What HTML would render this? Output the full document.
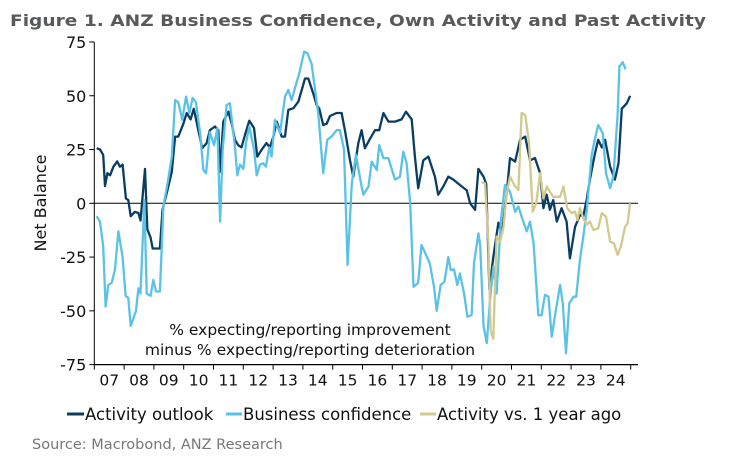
<!DOCTYPE html>
<html><head><meta charset="utf-8"><style>
body{margin:0;background:#fff;}
svg{display:block;}
text{font-family:"DejaVu Sans","Liberation Sans",sans-serif;}
</style></head><body>
<svg id="chart" width="743" height="458" viewBox="0 0 743 458">
<text x="10" y="26" font-size="16" font-weight="bold" fill="#58595b" textLength="696" lengthAdjust="spacingAndGlyphs">Figure 1.  ANZ Business Confidence, Own Activity and Past Activity</text>
<text transform="translate(46,203) rotate(-90)" text-anchor="middle" font-size="16" fill="#111">Net Balance</text>
<g id="yaxis"></g>
<g id="xaxis"></g>
<g id="series"></g>
<text x="310" y="335" text-anchor="middle" font-size="15.5" fill="#111">% expecting/reporting improvement</text>
<text x="310" y="355" text-anchor="middle" font-size="15.5" fill="#111">minus % expecting/reporting deterioration</text>
<g>
<g><line x1="67" y1="414" x2="84" y2="414" stroke="#0a3d62" stroke-width="3"/><text x="85" y="420" font-size="16.5" fill="#111" font-family="Liberation Sans, sans-serif">Activity outlook</text></g>
<g><line x1="226" y1="414" x2="242" y2="414" stroke="#5bc2e7" stroke-width="3"/><text x="243" y="420" font-size="16.5" fill="#111" font-family="Liberation Sans, sans-serif">Business confidence</text></g>
<g><line x1="420" y1="414" x2="436" y2="414" stroke="#d2c98f" stroke-width="3"/><text x="437" y="420" font-size="16.5" fill="#111" font-family="Liberation Sans, sans-serif">Activity vs. 1 year ago</text></g>
</g>
<text x="32" y="449" font-size="14.5" fill="#777" font-family="Liberation Sans, sans-serif">Source: Macrobond, ANZ Research</text>
</svg>
<script>
const yTicks=[75,50,25,0,-25,-50,-75];
const yearLabels=["07","08","09","10","11","12","13","14","15","16","17","18","19","20","21","22","23","24"];
const outlookT=[2007.08,2007.19,2007.30,2007.36,2007.44,2007.53,2007.64,2007.77,2007.86,2007.95,2008.06,2008.14,2008.22,2008.36,2008.48,2008.55,2008.70,2008.78,2008.89,2008.96,2009.09,2009.20,2009.29,2009.43,2009.60,2009.71,2009.82,2009.99,2010.10,2010.23,2010.34,2010.49,2010.62,2010.77,2010.88,2011.05,2011.16,2011.22,2011.33,2011.50,2011.61,2011.72,2011.83,2011.94,2012.06,2012.20,2012.36,2012.47,2012.62,2012.78,2012.89,2013.01,2013.12,2013.29,2013.40,2013.51,2013.68,2013.85,2014.07,2014.18,2014.35,2014.46,2014.55,2014.68,2014.80,2014.91,2015.13,2015.30,2015.41,2015.58,2015.69,2015.86,2015.97,2016.08,2016.25,2016.42,2016.56,2016.70,2016.87,2017.09,2017.31,2017.46,2017.65,2017.76,2017.87,2018.04,2018.21,2018.43,2018.54,2018.71,2018.88,2019.05,2019.27,2019.50,2019.61,2019.78,2019.89,2020.06,2020.15,2020.26,2020.39,2020.56,2020.68,2020.84,2020.95,2021.12,2021.29,2021.46,2021.62,2021.79,2021.96,2022.07,2022.18,2022.29,2022.40,2022.52,2022.68,2022.85,2022.96,2023.13,2023.30,2023.41,2023.52,2023.63,2023.80,2023.91,2024.03,2024.14,2024.31,2024.47,2024.59,2024.70,2024.87,2024.98];
const outlookV=[25.6,25,22.5,8,14,13,17,19.5,17,18,2.3,1.5,-6,-4,-4.5,-8,16,-12,-16,-21,-21,-21,-3,4.6,14.7,31,31,37,42,39,44,34,25.6,28,34,35.7,34,14.7,38,42.6,37,29.5,27,26,32,38.4,35,21.7,25,28,26,31,38,31,31,43.4,44.2,47.3,58,58,51,45.7,44,36.4,37,40.6,42,42,34,20,12.4,28,34,25.6,30,34,34,42,38,38,39,42.6,39,21.7,7,20,21.7,12.4,4,7.8,12.4,11,8.5,6,0,-3,16,12.4,9,-40,-25,-9,-14,4.6,21,19.4,29.5,31,20,21,14,-2.3,4,-3,1.5,-8.5,-2.3,-8.5,-25.6,-11,-5.4,-6,1.5,11,23,29.5,26,29.5,17,11,18.6,44,46.5,50];
const confT=[2007.08,2007.19,2007.30,2007.38,2007.47,2007.58,2007.69,2007.81,2007.95,2008.05,2008.14,2008.22,2008.40,2008.48,2008.55,2008.68,2008.76,2008.89,2008.98,2009.07,2009.20,2009.32,2009.48,2009.60,2009.71,2009.82,2009.95,2010.08,2010.19,2010.30,2010.41,2010.55,2010.66,2010.75,2010.88,2011.02,2011.13,2011.22,2011.31,2011.44,2011.55,2011.72,2011.80,2011.89,2012.00,2012.09,2012.20,2012.36,2012.45,2012.56,2012.67,2012.76,2012.87,2012.95,2013.06,2013.23,2013.40,2013.51,2013.62,2013.73,2013.88,2014.04,2014.15,2014.29,2014.41,2014.52,2014.68,2014.82,2014.96,2015.13,2015.24,2015.38,2015.50,2015.64,2015.78,2015.97,2016.03,2016.20,2016.31,2016.48,2016.56,2016.70,2016.87,2016.98,2017.09,2017.26,2017.37,2017.48,2017.60,2017.71,2017.87,2017.98,2018.10,2018.26,2018.40,2018.49,2018.62,2018.75,2018.88,2018.96,2019.07,2019.18,2019.27,2019.41,2019.52,2019.66,2019.74,2019.89,2019.95,2020.06,2020.17,2020.28,2020.39,2020.50,2020.64,2020.78,2020.95,2021.12,2021.23,2021.34,2021.51,2021.62,2021.74,2021.90,2022.01,2022.12,2022.24,2022.35,2022.49,2022.63,2022.72,2022.83,2022.94,2023.08,2023.17,2023.30,2023.41,2023.52,2023.69,2023.80,2023.91,2024.06,2024.17,2024.31,2024.42,2024.56,2024.62,2024.73,2024.83,2024.98];
const confV=[-6,-8.5,-20,-48,-38,-37,-31,-13,-25,-43,-44,-57,-50,-39.5,-42,1.5,-42,-43,-35.6,-41,-41,-1.5,11,21.7,48,47,38.8,49.6,42,49,47,32.6,15.5,14,33,27,35,-8.5,25,45.7,46.5,26,13,18,16,28,35.7,25,13,18,18.6,17,26,21.7,38.8,32.6,49.6,52.7,48,53.5,60.5,70.5,69.8,65,52.7,41,14,29.5,31,34,34,25,-28.7,9.3,22.5,7.8,4,7.8,19.4,15.5,27,21,21,16,11,12.4,24,18.6,0,-38.8,-37,-19.4,-23,-28,-38.8,-50,-38,-36.4,-25,-31,-30.7,-38,-32.6,-42,-52.7,-52,-28,-14,-19.4,-57,-65,-45,-29.5,-42,-8.5,8.5,5.4,-3.9,-1.5,-6.2,-13,-8.5,-18.6,-52,-52,-42.6,-43.4,-62,-49.6,-38,-46.5,-69.8,-46.5,-43.4,-43.4,-26,-15.5,-3.9,22.5,30,36.4,32.6,14,7,12.4,41,63.6,65.6,62.3];
const pastT=[2019.99,2020.11,2020.22,2020.30,2020.39,2020.50,2020.62,2020.73,2020.84,2020.95,2021.12,2021.23,2021.34,2021.46,2021.59,2021.71,2021.83,2021.96,2022.07,2022.18,2022.29,2022.40,2022.63,2022.74,2022.87,2023.02,2023.13,2023.21,2023.30,2023.41,2023.52,2023.63,2023.75,2023.91,2024.03,2024.17,2024.31,2024.44,2024.56,2024.67,2024.81,2024.90,2024.98];
const pastV=[9.8,9.3,-17,-59,-63,-15.5,-17.8,-11,4.6,12.4,7.8,6.2,42,41,28,-3.9,0,14,2.3,7.8,5.4,3,3,7.8,-2.3,-4.6,-3.9,-7.8,-2.3,-7,-10,-8.5,-12.4,-11.6,-4.6,-6.2,-17.8,-18.6,-24,-20,-11,-9.3,0];

const X0=94.3, YW=29.8, Y0=203.3, PX=2.151, XEND=638;
const sx=t=>X0+(t-2007)*YW;
const sy=v=>Y0-v*PX;
const NS="http://www.w3.org/2000/svg";
function mk(tag,attrs,parent){const e=document.createElementNS(NS,tag);for(const k in attrs)e.setAttribute(k,attrs[k]);parent.appendChild(e);return e;}
const ya=document.getElementById('yaxis'), xa=document.getElementById('xaxis'), sg=document.getElementById('series');
const yl=mk('line',{x1:X0,y1:sy(75),x2:X0,y2:sy(-75),stroke:'#000','stroke-width':1},ya);


yTicks.forEach(v=>{
  const t=mk('line',{x1:X0-5,x2:X0,y1:sy(v),y2:sy(v),stroke:'#000'},ya);
  
  
  const l=mk('text',{x:X0-8,y:sy(v)+6,'text-anchor':'end','font-size':16,fill:'#111'},ya);
  l.textContent=v;
  
  
});
const zl=mk('line',{x1:X0,x2:XEND,y1:sy(0),y2:sy(0),stroke:'#000','stroke-width':1},ya);


const xl=mk('line',{x1:X0,x2:XEND,y1:sy(-75),y2:sy(-75),stroke:'#000','stroke-width':1.2},xa);


for(let i=0;i<=yearLabels.length;i++){
  const tk=mk('line',{x1:sx(2007+i),x2:sx(2007+i),y1:sy(-75),y2:sy(-75)+5,stroke:'#000'},xa);
  
  
}
yearLabels.forEach((lab,i)=>{
  const l=mk('text',{x:sx(2007.5+i),y:sy(-75)+21,'text-anchor':'middle','font-size':15.5,fill:'#111'},xa);
  l.textContent=lab;
  
  
});
function line(T,V,color,name){
  const d=T.map((t,i)=>(i?'L':'M')+sx(t).toFixed(1)+','+sy(V[i]).toFixed(1)).join('');
  const p=mk('path',{d:d,fill:'none',stroke:color,'stroke-width':2.3,'stroke-linejoin':'round'},sg);
  
  
}
line(outlookT,outlookV,'#0a3d62','activity-outlook-line');
line(confT,confV,'#5bc2e7','business-confidence-line');
line(pastT,pastV,'#d2c98f','activity-vs-year-ago-line');
</script>
</body></html>
